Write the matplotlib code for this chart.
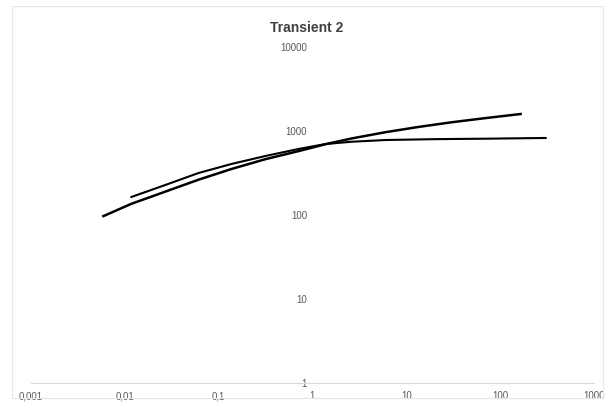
import matplotlib.pyplot as plt
from matplotlib.patches import Rectangle

# Données (échelle log-log)
x_a = [0.00591, 0.01175, 0.0271, 0.0609, 0.137, 0.315, 0.709, 1.38, 2.61, 6.0, 13.5, 30.3, 69.9, 165]
y_a = [97, 136, 190, 263, 353, 462, 576, 697, 815, 968, 1118, 1270, 1425, 1593]

x_b = [0.01175, 0.0271, 0.0609, 0.137, 0.315, 0.709, 1.38, 2.61, 6.0, 20.5, 69.9, 305]
y_b = [164, 228, 316, 405, 504, 611, 700, 745, 781, 800, 810, 826]

x_ticks = [0.001, 0.01, 0.1, 1, 10, 100, 1000]
x_labels = ["0,001", "0,01", "0,1", "1", "10", "100", "1000"]
y_ticks = [1, 10, 100, 1000, 10000]
y_labels = ["1", "10", "100", "1000", "10000"]

plt.rcParams['font.family'] = ['Liberation Sans', 'DejaVu Sans']

fig = plt.figure(figsize=(6.13, 4.07), dpi=100)
fig.patches.append(Rectangle((12/613, 9/407), 591/613, 392/407, transform=fig.transFigure,
                             fill=False, edgecolor='#e6e6e6', linewidth=0.8))
ax = fig.add_axes([31/613, 24/407, 563/613, 336/407])

ax.plot(x_a, y_a, color='black', linewidth=1.8, solid_joinstyle='round')
ax.plot(x_b, y_b, color='black', linewidth=1.5, solid_joinstyle='round')

ax.set_xscale('log')
ax.set_yscale('log')
ax.set_xlim(0.001, 1000)
ax.set_ylim(1, 10000)

ax.set_xticks(x_ticks)
ax.set_xticklabels(x_labels)
ax.set_yticks(y_ticks)
ax.set_yticklabels(y_labels)
ax.minorticks_off()

# axe vertical qui coupe en x = 1
ax.spines['left'].set_position(('data', 1))
ax.spines['left'].set_visible(False)
ax.spines['right'].set_visible(False)
ax.spines['top'].set_visible(False)
ax.spines['bottom'].set_color('#d9d9d9')
ax.spines['bottom'].set_linewidth(0.8)
ax.tick_params(axis='both', length=0, labelsize=7, labelcolor='#595959')
ax.tick_params(axis='x', pad=6)
ax.tick_params(axis='y', pad=4)

fig.suptitle("Transient 2", x=307/613, y=1 - 28/407, va='center',
             fontsize=10, color='#404040', fontweight='bold')

fig.savefig("out.png", dpi=100)
